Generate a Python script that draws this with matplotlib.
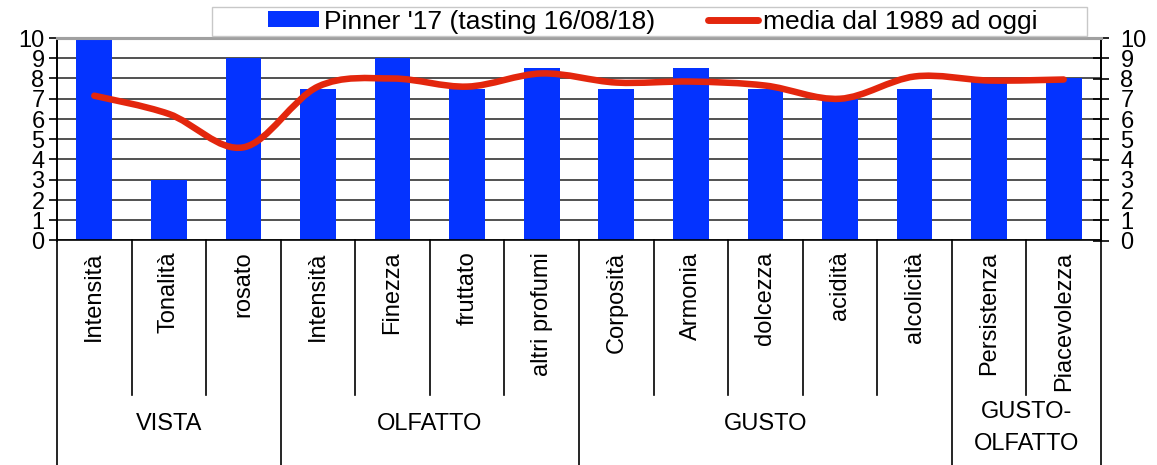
import matplotlib
matplotlib.use("Agg")
import matplotlib.pyplot as plt
from matplotlib.path import Path
from matplotlib.patches import PathPatch, Patch, Rectangle
from matplotlib.lines import Line2D
import numpy as np

plt.rcParams['font.family'] = ['Liberation Sans', 'DejaVu Sans']

# data
categories = ['Intensità', 'Tonalità', 'rosato', 'Intensità', 'Finezza', 'fruttato',
              'altri profumi', 'Corposità', 'Armonia', 'dolcezza', 'acidità',
              'alcolicità', 'Persistenza', 'Piacevolezza']
pinner = [10, 3, 9, 7.5, 9, 7.5, 8.5, 7.5, 8.5, 7.5, 7, 7.5, 8, 8]
media = [7.15, 6.25, 4.6, 7.6, 8.0, 7.6, 8.25, 7.8, 7.85, 7.65, 7.0, 8.1, 7.9, 7.95]
groups = ['VISTA', 'OLFATTO', 'GUSTO', 'GUSTO-\nOLFATTO']
group_sizes = [3, 4, 5, 2]
label_bar = "Pinner '17 (tasting 16/08/18)"
label_line = "media dal 1989 ad oggi"

BLUE = '#0433ff'
RED = '#e3260d'
FS = 17

fig = plt.figure(figsize=(11.57, 4.65), dpi=100)
ax = fig.add_axes([57/1157, 1 - 240.5/465, (1101-57)/1157, (240.5-38)/465])

x = np.arange(len(categories))
ax.set_axisbelow(True)
ax.yaxis.grid(True, color='#333333', linewidth=1.2)
ax.bar(x, pinner, width=0.48, color=BLUE, zorder=2)

# smooth line (bezier through the points, like excel's smoothed line)
pts = np.column_stack([x, media]).astype(float)
verts = [tuple(pts[0])]
codes = [Path.MOVETO]
n = len(pts)
for i in range(n - 1):
    p0 = pts[i - 1] if i > 0 else pts[i]
    p1 = pts[i]
    p2 = pts[i + 1]
    p3 = pts[i + 2] if i + 2 < n else pts[i + 1]
    c1 = p1 + (p2 - p0) / 6.0
    c2 = p2 - (p3 - p1) / 6.0
    verts += [tuple(c1), tuple(c2), tuple(p2)]
    codes += [Path.CURVE4] * 3
ax.add_patch(PathPatch(Path(verts, codes), facecolor='none', edgecolor=RED,
                       linewidth=4.7, capstyle='round', joinstyle='round', zorder=3))

ax.set_xlim(-0.5, len(categories) - 0.5)
ax.set_ylim(0, 10)
ax.set_yticks(range(11))
ax.set_xticks([])
ax.tick_params(axis='y', labelsize=FS, direction='out', length=6, width=1.2, pad=3)

ax2 = ax.twinx()
ax2.set_ylim(0, 10)
ax2.set_yticks(range(11))
ax2.tick_params(axis='y', labelsize=FS, direction='inout', length=12, width=1.2, pad=8)

for a in (ax, ax2):
    a.spines['top'].set_color('#a0a0a0')
    a.spines['top'].set_linewidth(2.2)
    a.spines['left'].set_linewidth(1.2)
    a.spines['right'].set_linewidth(1.2)
    a.spines['bottom'].set_linewidth(1.2)
ax2.spines['bottom'].set_visible(False)

# category labels and separators under the axis
tr = ax.get_xaxis_transform()
for i, c in enumerate(categories):
    ax.text(i, -0.055, c, rotation=90, ha='center', va='top', fontsize=FS, transform=tr)

bounds = np.cumsum([0] + group_sizes) - 0.5
for b in np.arange(-0.5, len(categories)):
    bottom = -1.12 if b in bounds else -0.763
    ax.add_line(Line2D([b, b], [0, bottom], color='black', linewidth=1.2,
                       transform=tr, clip_on=False))

for g, lo, hi in zip(groups, bounds[:-1], bounds[1:]):
    yy = -0.925 if '\n' in g else -0.905
    ax.text((lo + hi) / 2, yy, g, ha='center', va='center', fontsize=FS,
            transform=tr, linespacing=1.6)

# legend with its own box
fig.patches.append(Rectangle((212/1157, 1 - 36/465), (1087-212)/1157, 29/465,
                             transform=fig.transFigure, facecolor='white',
                             edgecolor='#c8c8c8', linewidth=1.0, zorder=5))
handles = [Patch(facecolor=BLUE, edgecolor='none'),
           Line2D([0], [0], color=RED, linewidth=5, solid_capstyle='round')]
leg = fig.legend(handles, [label_bar, label_line], loc='center',
                 bbox_to_anchor=(653/1157, 1 - 21.5/465), ncol=2, frameon=False,
                 fontsize=19, handlelength=1.9, handleheight=0.55,
                 handletextpad=0.2, columnspacing=2.0, borderpad=0)
leg.set_zorder(6)

fig.savefig('out.png', dpi=100)
